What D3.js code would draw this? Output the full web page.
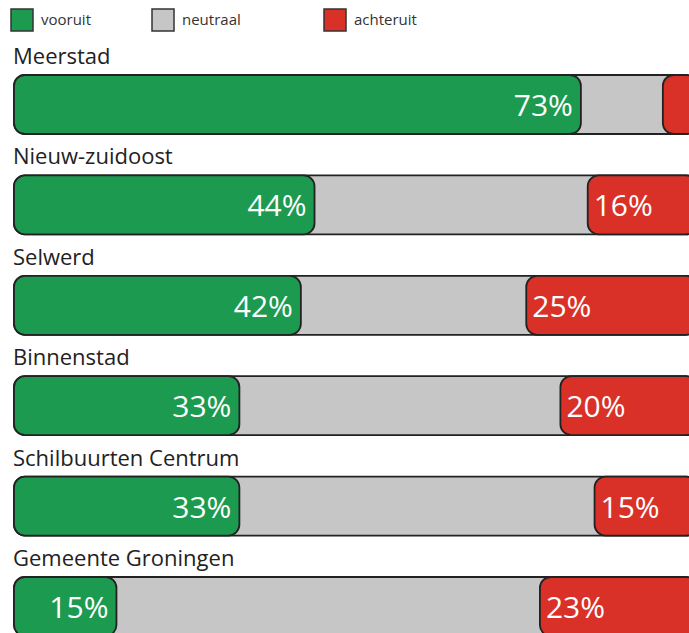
<!DOCTYPE html>
<html lang="nl">
<head>
<meta charset="UTF-8">
<title>vooruit / neutraal / achteruit</title>
<script src="https://d3js.org/d3.v7.min.js"></script>
<style>
  body { margin: 0; background: #fff; }
  text { font-family: "Open Sans", sans-serif; }
</style>
</head>
<body>
<script>
// data
const gebieden = ["Meerstad", "Nieuw-zuidoost", "Selwerd", "Binnenstad", "Schilbuurten Centrum", "Gemeente Groningen"];
// drawn bar lengths (%) – Meerstad's green bar is drawn longer than its 73% label
const vooruit = [83, 44, 42, 33, 33, 15];
const achteruit = [5, 16, 25, 20, 15, 23];
const vooruitLabels = ["73%", "44%", "42%", "33%", "33%", "15%"];
const achteruitLabels = ["", "16%", "25%", "20%", "15%", "23%"];
const legendItems = ["vooruit", "neutraal", "achteruit"];

const w = 689;
const h = 633;
const barH = 59;
const r = 11;

const colors = { vooruit: "#1c9a50", neutraal: "#c6c6c6", achteruit: "#d93128" };
const strokeCol = "#222";

const svg = d3.select("body").append("svg")
  .attr("width", w)
  .attr("height", h);

const x = d3.scaleLinear().domain([0, 100]).range([14, 697]);
const y = d3.scalePoint().domain(gebieden).range([75, 577]);

const rows = gebieden.map((g, i) => ({
  name: g, v: vooruit[i], a: achteruit[i], vl: vooruitLabels[i], al: achteruitLabels[i]
}));

//legend
const legendX = d3.scaleOrdinal().domain(legendItems).range([11, 152, 324]);
const legend = svg.append("g").attr("id", "legend");
legend.selectAll("rect")
  .data(legendItems)
  .enter()
  .append("rect")
  .attr("x", d => legendX(d))
  .attr("y", 9)
  .attr("width", 22)
  .attr("height", 22)
  .attr("fill", d => colors[d])
  .attr("stroke", "#333")
  .attr("stroke-width", 1.5);
legend.selectAll("text")
  .data(legendItems)
  .enter()
  .append("text")
  .attr("x", d => legendX(d) + 30)
  .attr("y", 25)
  .attr("font-size", 15)
  .attr("fill", "#333")
  .text(d => d);

const row = svg.selectAll("g.row")
  .data(rows)
  .enter()
  .append("g")
  .attr("class", "row")
  .attr("transform", d => "translate(0," + y(d.name) + ")");

row.append("text")
  .attr("x", 13)
  .attr("y", -11)
  .attr("font-size", 22)
  .attr("fill", "#222")
  .text(d => d.name);

// neutral background over the full width
row.append("rect")
  .attr("x", x(0))
  .attr("y", 0)
  .attr("width", x(100) - x(0))
  .attr("height", barH)
  .attr("rx", r)
  .attr("fill", colors.neutraal)
  .attr("stroke", strokeCol)
  .attr("stroke-width", 1.8);

row.append("rect")
  .attr("x", x(0))
  .attr("y", 0)
  .attr("width", d => x(d.v) - x(0))
  .attr("height", barH)
  .attr("rx", r)
  .attr("fill", colors.vooruit)
  .attr("stroke", strokeCol)
  .attr("stroke-width", 1.8);

row.append("rect")
  .attr("x", d => x(100 - d.a))
  .attr("y", 0)
  .attr("width", d => x(100) - x(100 - d.a))
  .attr("height", barH)
  .attr("rx", r)
  .attr("fill", colors.achteruit)
  .attr("stroke", strokeCol)
  .attr("stroke-width", 1.8);

row.append("text")
  .attr("x", d => x(d.v) - 8)
  .attr("y", 41)
  .attr("text-anchor", "end")
  .attr("font-size", 30)
  .attr("fill", "#fff")
  .text(d => d.vl);

row.append("text")
  .attr("x", d => x(100 - d.a) + 6)
  .attr("y", 41)
  .attr("font-size", 30)
  .attr("fill", "#fff")
  .text(d => d.al);
</script>
</body>
</html>
